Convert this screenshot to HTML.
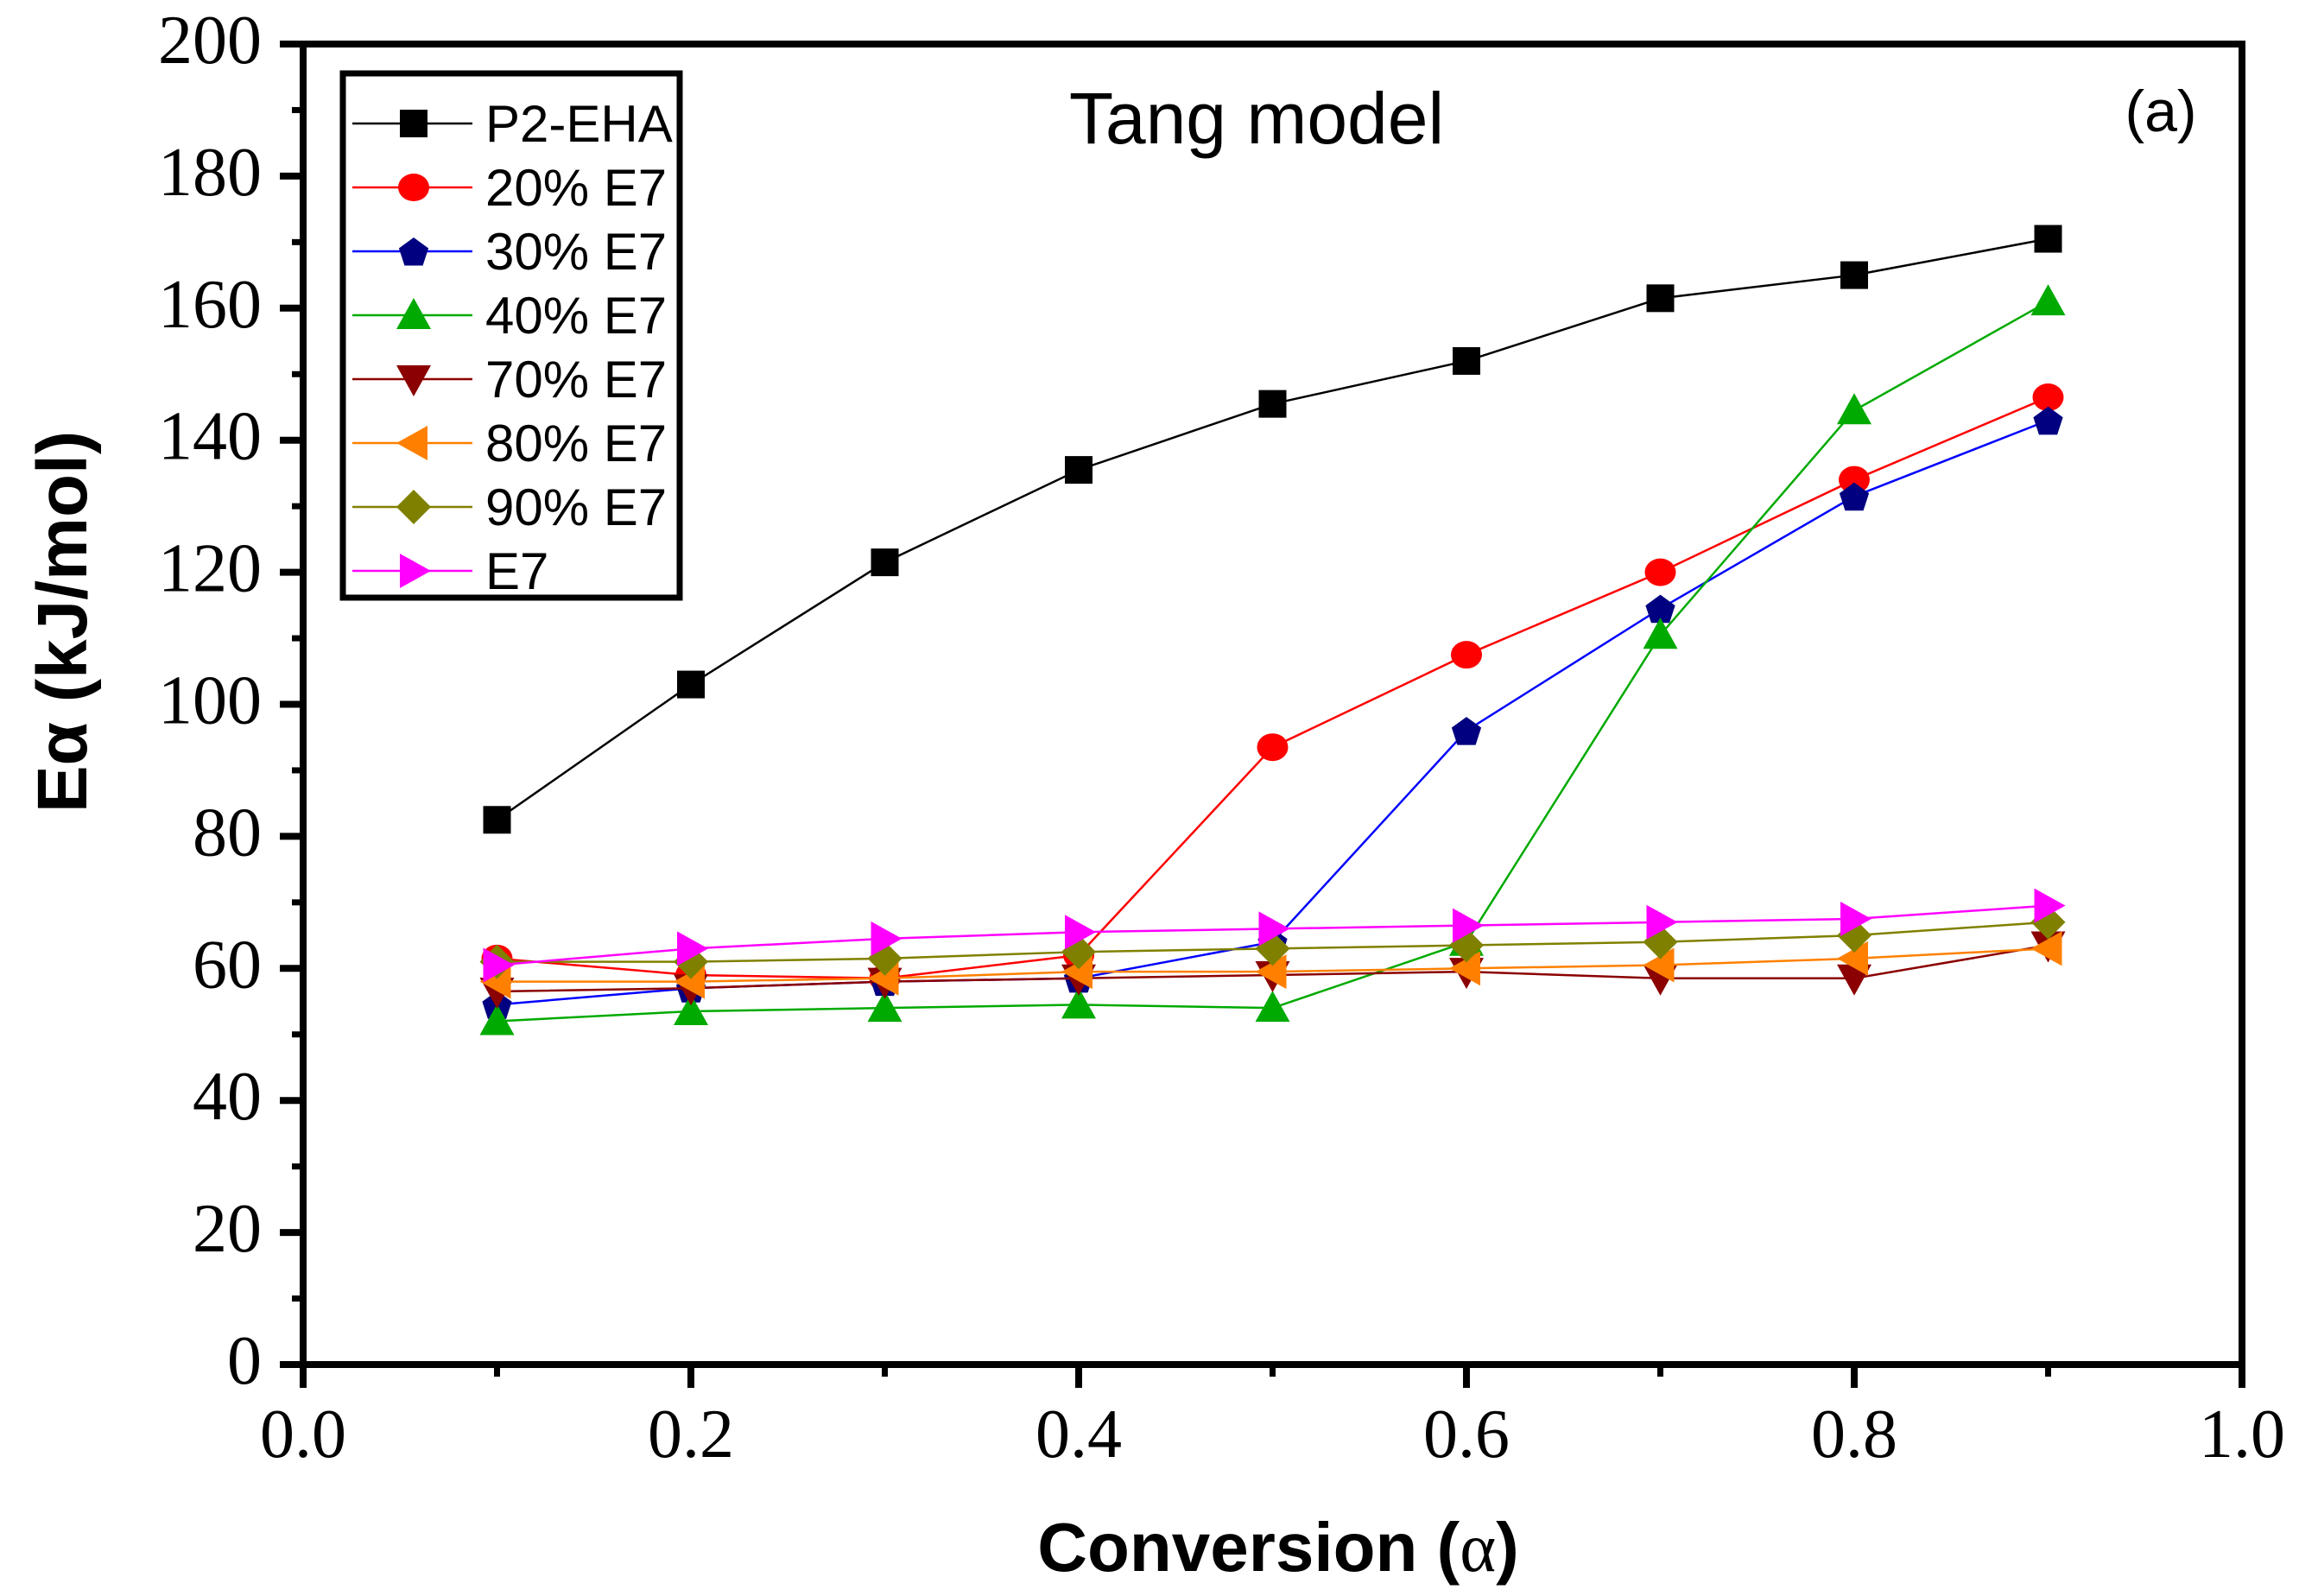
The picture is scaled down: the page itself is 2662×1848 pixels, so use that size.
<!DOCTYPE html>
<html><head><meta charset="utf-8"><style>
html,body{margin:0;padding:0;background:#fff;}
svg{display:block;}
</style></head><body>
<svg id="chart" width="2662" height="1848" viewBox="0 0 2662 1848" xmlns="http://www.w3.org/2000/svg">
<g id="grid-layer"></g>
<g id="series-layer"></g>
<g id="axes-layer"></g>
<text x="1455" y="166" font-family="Liberation Sans, sans-serif" font-size="84" text-anchor="middle">Tang model</text>
<text x="2502" y="152" font-family="Liberation Sans, sans-serif" font-size="68" text-anchor="middle">(a)</text>
<text transform="translate(100,720) rotate(-90)" font-family="Liberation Sans, sans-serif" font-weight="bold" font-size="82" text-anchor="middle">Eα (kJ/mol)</text>
<text x="1480" y="1819" font-family="Liberation Sans, sans-serif" font-weight="bold" font-size="80" text-anchor="middle">Conversion (<tspan font-family="Liberation Serif, serif" font-weight="normal">α</tspan>)</text>
<g id="legend-layer"></g>
</svg>
<script>
const xValues = [0.1,0.2,0.3,0.4,0.5,0.6,0.7,0.8,0.9];
const seriesNames = ["P2-EHA","20% E7","30% E7","40% E7","70% E7","80% E7","90% E7","E7"];
const p2ehaValues = [82.5,103,121.5,135.5,145.5,152,161.5,165,170.5];
const e7_20Values = [61.5,59,58.5,62,93.5,107.5,120,134,146.5];
const e7_30Values = [54.5,57,58,58.5,64,96,114.5,131.5,143];
const e7_40Values = [52,53.5,54,54.5,54,64,110.5,144.5,161];
const e7_70Values = [56.5,57,58,58.5,59,59.5,58.5,58.5,63.5];
const e7_80Values = [58,58,58.5,59.5,59.5,60,60.5,61.5,63];
const e7_90Values = [61,61,61.5,62.5,63,63.5,64,65,67];
const e7Values = [60.5,63,64.5,65.5,66,66.5,67,67.5,69.5];
const xTickLabels = ["0.0","0.2","0.4","0.6","0.8","1.0"];
const yTickLabels = ["0","20","40","60","80","100","120","140","160","180","200"];

const L=351,R=2596,T=51,B=1580;
const xs = v => L + (v-0)/(1-0)*(R-L);
const ys = v => B - (v-0)/(200-0)*(B-T);
const NS="http://www.w3.org/2000/svg";
function mk(tag, attrs, parent){const e=document.createElementNS(NS,tag);for(const k in attrs)e.setAttribute(k,attrs[k]);parent.appendChild(e);return e;}

const seriesData=[p2ehaValues,e7_20Values,e7_30Values,e7_40Values,e7_70Values,e7_80Values,e7_90Values,e7Values];
const lineColors=["#000000","#ff0000","#0000ff","#00aa00","#8b0000","#ff8000","#808000","#ff00ff"];
const fillColors=["#000000","#ff0000","#000080","#00aa00","#8b0000","#ff8000","#808000","#ff00ff"];
const shapes=["square","circle","pentagon","up","down","left","diamond","right"];

function marker(shape,cx,cy,color,parent){
  const s=18;let el;
  if(shape==="square") el=mk("rect",{x:cx-s+2,y:cy-s+2,width:2*s-4,height:2*s-4,fill:color},parent);
  else if(shape==="circle") el=mk("ellipse",{cx:cx,cy:cy,rx:s,ry:s-2,fill:color},parent);
  else {
    let pts;
    if(shape==="pentagon"){pts=[];for(let i=0;i<5;i++){const a=-Math.PI/2+i*2*Math.PI/5;pts.push([cx+s*Math.cos(a),cy+s*Math.sin(a)+2]);}}
    else if(shape==="up") pts=[[cx,cy-s-2],[cx+s+2,cy+s-2],[cx-s-2,cy+s-2]];
    else if(shape==="down") pts=[[cx,cy+s+2],[cx+s+2,cy-s+2],[cx-s-2,cy-s+2]];
    else if(shape==="left") pts=[[cx-s-2,cy],[cx+s-2,cy-s-2],[cx+s-2,cy+s+2]];
    else if(shape==="right") pts=[[cx+s+2,cy],[cx-s+2,cy-s-2],[cx-s+2,cy+s+2]];
    else pts=[[cx,cy-s-2],[cx+s+2,cy],[cx,cy+s+2],[cx-s-2,cy]];
    el=mk("polygon",{points:pts.map(p=>p.join(",")).join(" "),fill:color},parent);
  }
  return el;
}

const sl=document.getElementById("series-layer");
seriesData.forEach((vals,si)=>{
  const g=mk("g",{},sl);
  
  
  const pl=mk("polyline",{points:vals.map((v,i)=>xs(xValues[i])+","+ys(v)).join(" "),fill:"none",stroke:lineColors[si],"stroke-width":2.5},g);
  
  
  vals.forEach((v,i)=>{
    const m=marker(shapes[si],xs(xValues[i]),ys(v),fillColors[si],g);
    
    
  });
});

const ax=document.getElementById("axes-layer");
const frame=mk("rect",{x:L,y:T,width:R-L,height:B-T,fill:"none",stroke:"#000","stroke-width":8},ax);


yTickLabels.forEach((lab,i)=>{
  const v=i*20,y=ys(v);
  const t=mk("line",{x1:L-27,x2:L,y1:y,y2:y,stroke:"#000","stroke-width":8},ax);
  
  
  if(i<10){const ym=ys(v+10);const mt=mk("line",{x1:L-13,x2:L,y1:ym,y2:ym,stroke:"#000","stroke-width":7},ax);
    
    }
  const tx=mk("text",{x:L-48,y:y+22,"font-family":"Liberation Serif, serif","font-size":80,"text-anchor":"end"},ax);
  tx.textContent=lab;
  
  
});
xTickLabels.forEach((lab,i)=>{
  const v=i*0.2,x=xs(v);
  const t=mk("line",{x1:x,x2:x,y1:B,y2:B+27,stroke:"#000","stroke-width":8},ax);
  
  
  if(i<5){const xm=xs(v+0.1);const mt=mk("line",{x1:xm,x2:xm,y1:B,y2:B+14,stroke:"#000","stroke-width":7},ax);
    
    }
  const tx=mk("text",{x:x,y:B+107,"font-family":"Liberation Serif, serif","font-size":80,"text-anchor":"middle"},ax);
  tx.textContent=lab;
  
  
});

const lg=document.getElementById("legend-layer");
const box=mk("rect",{x:397,y:85,width:390,height:607,fill:"#fff",stroke:"#000","stroke-width":7},lg);


const rowY=[143,217,291,365,439,513,587,661];
seriesNames.forEach((nm,si)=>{
  const g=mk("g",{},lg);
  
  
  const y=rowY[si];
  mk("line",{x1:408,x2:547,y1:y,y2:y,stroke:lineColors[si],"stroke-width":2.5},g);
  marker(shapes[si],479,y,fillColors[si],g);
  const t=mk("text",{x:562,y:y+21,"font-family":"Liberation Sans, sans-serif","font-size":60},g);
  t.textContent=nm;
});
</script>
</body></html>
